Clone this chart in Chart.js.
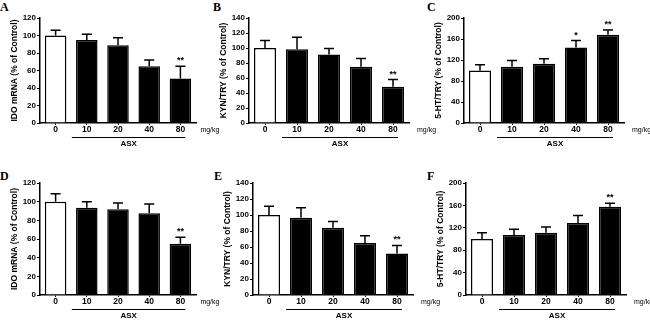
<!DOCTYPE html>
<html>
<head>
<meta charset="utf-8">
<script src="https://cdn.jsdelivr.net/npm/chart.js@4.4.0/dist/chart.umd.min.js"></script>
<style>
  body { margin: 0; background: #fff; width: 650px; height: 320px; position: relative; overflow: hidden; }
  canvas { position: absolute; }
  .letter { position: absolute; font: bold 12px "Liberation Serif", serif; color: #000; line-height: 12px; }
</style>
</head>
<body>
<div class="letter" style="left:0px;top:1px">A</div>
<div class="letter" style="left:213px;top:1px">B</div>
<div class="letter" style="left:427px;top:1px">C</div>
<div class="letter" style="left:0px;top:170px">D</div>
<div class="letter" style="left:214px;top:170px">E</div>
<div class="letter" style="left:427px;top:170px">F</div>

<canvas id="chartA" width="230" height="160" style="left:0px;top:0px"></canvas>
<canvas id="chartB" width="230" height="160" style="left:209px;top:0px"></canvas>
<canvas id="chartC" width="230" height="160" style="left:424px;top:0px"></canvas>
<canvas id="chartD" width="230" height="160" style="left:0px;top:160px"></canvas>
<canvas id="chartE" width="230" height="160" style="left:213px;top:160px"></canvas>
<canvas id="chartF" width="230" height="160" style="left:426px;top:160px"></canvas>

<script>
// doses (mg/kg) on the x axis
const doses = ['0', '10', '20', '40', '80'];

// tick values per y axis
const ticksIdo = [0, 20, 40, 60, 80, 100, 120];
const ticksKyn = [0, 20, 40, 60, 80, 100, 120, 140];
const ticksHt = [0, 40, 80, 120, 160, 200];

// means and SEM
const idoA = [100, 95, 89, 65, 51];
const idoAErr = [6, 6.5, 8.5, 7, 14];
const kynB = [100, 98.5, 91.5, 75, 48.5];
const kynBErr = [10, 16, 8, 11, 9.5];
const htC = [100, 107, 113, 144, 168];
const htCErr = [11, 12, 9.5, 13, 9];
const idoD = [100, 93.5, 92, 87.5, 55];
const idoDErr = [8.5, 6.5, 6.5, 10, 7];
const kynE = [100, 96.5, 84, 65, 52];
const kynEErr = [11, 12.5, 8, 9, 10];
const htF = [100, 107, 111, 128.5, 157.5];
const htFErr = [11, 10.5, 10.5, 13.5, 6.5];

// significance marks
const sigA = ['', '', '', '', '**'];
const sigB = ['', '', '', '', '**'];
const sigC = ['', '', '', '*', '**'];
const sigD = ['', '', '', '', '**'];
const sigE = ['', '', '', '', '**'];
const sigF = ['', '', '', '', '**'];

const FONT = '"Liberation Sans", Arial, sans-serif';

/**
 * errorBars
 * Draws upper SEM whiskers, stars, and the mg/kg / ASX annotations.
 */
function errorBars(values, errs, sig, labelGap) {
    return {
        id: 'errorBars',
        afterDatasetsDraw(chart) {
            const { ctx, chartArea, scales: { x, y } } = chart;
            const meta = chart.getDatasetMeta(0);
            ctx.save();
            ctx.strokeStyle = '#000';
            ctx.fillStyle = '#000';
            ctx.lineWidth = 1.5;
            values.forEach((v, i) => {
                const bx = meta.data[i].x;
                const y0 = y.getPixelForValue(v);
                const y1 = y.getPixelForValue(v + errs[i]);
                ctx.beginPath();
                ctx.moveTo(bx, y0);
                ctx.lineTo(bx, y1);
                ctx.moveTo(bx - 5, y1);
                ctx.lineTo(bx + 5, y1);
                ctx.stroke();
                if (sig[i]) {
                    ctx.font = 'bold 9px ' + FONT;
                    ctx.textAlign = 'center';
                    ctx.textBaseline = 'alphabetic';
                    ctx.fillText(sig[i], bx, y1 - 3);
                }
            });

            const base = chartArea.bottom;
            const last = x.getPixelForValue(doses.length - 1);
            ctx.font = '7px ' + FONT;
            ctx.textAlign = 'left';
            ctx.textBaseline = 'middle';
            ctx.fillText('mg/kg', last + labelGap, base + 7);

            // bracket under ASX-treated groups
            ctx.lineWidth = 1;
            ctx.beginPath();
            ctx.moveTo(x.getPixelForValue(1) - 15, base + 14.5);
            ctx.lineTo(last + 5, base + 14.5);
            ctx.stroke();

            ctx.font = 'bold 8px ' + FONT;
            ctx.textAlign = 'center';
            ctx.fillText('ASX', (x.getPixelForValue(1) - 15 + last + 5) / 2, base + 21);
            ctx.restore();
        }
    };
}

function makePanel(id, values, errs, sig, ticks, title, row, plotWidth, labelGap) {
    const top = row === 0 ? 18 : 23;
    const xHeight = row === 0 ? 37 : 25;
    const canvas = document.getElementById(id);
    new Chart(canvas, {
        type: 'bar',
        data: {
            labels: doses,
            datasets: [{
                data: values,
                backgroundColor: values.map((v, i) => i === 0 ? '#ffffff' : '#000000'),
                borderColor: '#000000',
                borderWidth: 1.5,
                borderSkipped: 'bottom',
                categoryPercentage: 1,
                barPercentage: 0.69
            }]
        },
        options: {
            responsive: false,
            animation: false,
            devicePixelRatio: 1,
            layout: { padding: { left: 0, top: top, right: 230 - 40 - plotWidth, bottom: 0 } },
            plugins: { legend: { display: false }, tooltip: { enabled: false } },
            scales: {
                x: {
                    offset: true,
                    grid: { display: true, offset: false, drawOnChartArea: false, drawTicks: true, tickLength: 2, color: '#000', lineWidth: 1 },
                    border: { display: true, color: '#000', width: 1.5 },
                    ticks: { color: '#000', font: { family: FONT, size: 8.5, weight: 'bold' }, padding: 0, maxRotation: 0 },
                    afterFit: s => { s.height = xHeight; }
                },
                y: {
                    min: ticks[0],
                    max: ticks[ticks.length - 1],
                    afterBuildTicks: s => { s.ticks = ticks.map(v => ({ value: v })); },
                    grid: { display: true, drawOnChartArea: false, drawTicks: true, tickLength: 3, color: '#000', lineWidth: 1 },
                    border: { display: true, color: '#000', width: 1.5 },
                    ticks: { color: '#000', font: { family: FONT, size: 8, weight: 'bold' }, padding: 1 },
                    title: {
                        display: true,
                        text: title,
                        color: '#000',
                        font: { family: FONT, size: 8.5, weight: 'bold' },
                        padding: { top: 10, bottom: 0 }
                    },
                    afterFit: s => { s.width = 40; }
                }
            }
        },
        plugins: [errorBars(values, errs, sig, labelGap)]
    });
}

makePanel('chartA', idoA, idoAErr, sigA, ticksIdo, 'IDO mRNA (% of Control)', 0, 156, 20);
makePanel('chartB', kynB, kynBErr, sigB, ticksKyn, 'KYN/TRY (% of Control)', 0, 160, 24);
makePanel('chartC', htC, htCErr, sigC, ticksHt, '5-HT/TRY (% of Control)', 0, 160, 24);
makePanel('chartD', idoD, idoDErr, sigD, ticksIdo, 'IDO mRNA (% of Control)', 1, 156, 20);
makePanel('chartE', kynE, kynEErr, sigE, ticksKyn, 'KYN/TRY (% of Control)', 1, 160, 24);
makePanel('chartF', htF, htFErr, sigF, ticksHt, '5-HT/TRY (% of Control)', 1, 160, 24);
</script>
</body>
</html>
